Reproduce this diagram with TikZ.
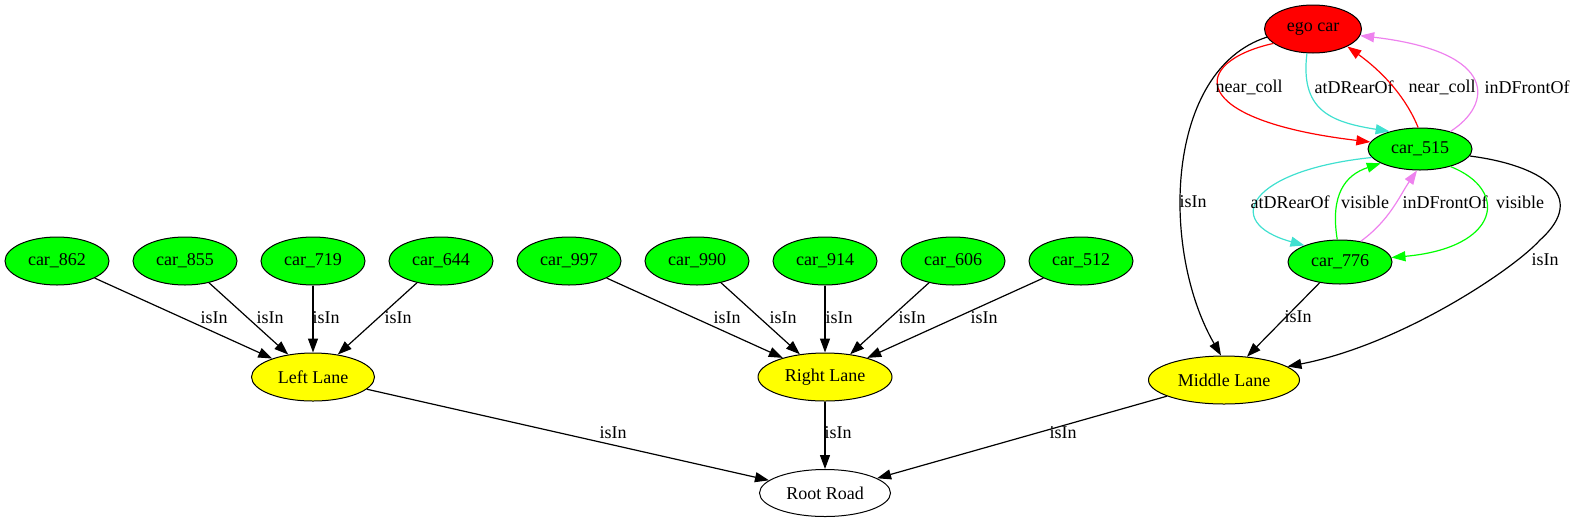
\documentclass[tikz,border=0pt]{standalone}
\usepackage{fontspec}
\setmainfont{Liberation Serif}
\usetikzlibrary{shapes.geometric,arrows.meta}
\definecolor{gvgreen}{HTML}{00FF00}
\definecolor{gvyellow}{HTML}{FFFF00}
\definecolor{gvred}{HTML}{FF0000}
\definecolor{gvturq}{HTML}{40E0D0}
\definecolor{gvviolet}{HTML}{EE82EE}
\begin{document}
\begin{tikzpicture}[x=1pt,y=-1pt,
  font=\fontsize{18}{20}\selectfont,
  vnode/.style={ellipse, draw=black, line width=1pt, inner sep=0pt, minimum height=48pt},
  carnode/.style={vnode, fill=gvgreen, minimum width=104pt},
  lanenode/.style={vnode, fill=gvyellow},
  edge/.style={draw, line width=1.2pt, -{Triangle[length=14pt,width=10pt]}},
  lab/.style={inner sep=0pt}]
\useasboundingbox (0,0) rectangle (1576,523);
% nodes
\node[vnode, fill=gvred, minimum width=97pt] (ego) at (1313,29) {ego car};
\node[carnode, minimum height=42pt] (c515) at (1420,149) {car\_515};
\node[carnode, minimum height=44pt] (c776) at (1340,262) {car\_776};
\node[carnode] (c862) at (57,261) {car\_862};
\node[carnode] (c855) at (185,261) {car\_855};
\node[carnode] (c719) at (313,261) {car\_719};
\node[carnode] (c644) at (441,261) {car\_644};
\node[carnode] (c997) at (569,261) {car\_997};
\node[carnode] (c990) at (697,261) {car\_990};
\node[carnode] (c914) at (825,261) {car\_914};
\node[carnode] (c606) at (953,261) {car\_606};
\node[carnode] (c512) at (1081,261) {car\_512};
\node[lanenode, minimum width=123pt] (LL) at (313,377) {Left Lane};
\node[lanenode, minimum width=134pt] (RL) at (825,377) {Right Lane};
\node[lanenode, minimum width=151pt] (ML) at (1224,380) {Middle Lane};
\node[vnode, minimum width=131pt, minimum height=47pt] (RR) at (825,493) {Root Road};
% left lane edges
\draw[edge] (c862) -- (LL) node[lab] at (214,318) {isIn};
\draw[edge] (c855) -- (LL) node[lab] at (270,318) {isIn};
\draw[edge] (c719) -- (LL) node[lab] at (326,318) {isIn};
\draw[edge] (c644) -- (LL) node[lab] at (398,318) {isIn};
% right lane edges
\draw[edge] (c997) -- (RL) node[lab] at (727,318) {isIn};
\draw[edge] (c990) -- (RL) node[lab] at (783,318) {isIn};
\draw[edge] (c914) -- (RL) node[lab] at (839,318) {isIn};
\draw[edge] (c606) -- (RL) node[lab] at (912,318) {isIn};
\draw[edge] (c512) -- (RL) node[lab] at (984,318) {isIn};
% lanes to root
\draw[edge] (LL) -- (RR) node[lab] at (613,433) {isIn};
\draw[edge] (RL) -- (RR) node[lab] at (838,433) {isIn};
\draw[edge] (ML) -- (RR) node[lab] at (1063,433) {isIn};
% middle lane
\draw[edge] (c776) -- (ML) node[lab] at (1298,317) {isIn};
\draw[edge] (ego.190) .. controls (1165,70) and (1160,250) .. (ML.97);
\node[lab] (l_egoml) at (1193,202) {isIn};
\draw[edge] (c515.352) .. controls (1540,165) and (1590,195) .. (1540,240)
   .. controls (1513,270) and (1400,345) .. (ML.12);
\node[lab] (l_515ml) at (1545,260) {isIn};
% ego <-> car_515
\draw[edge, gvred] (ego.200) .. controls (1190,62) and (1185,120) .. (c515.172);
\node[lab] (l_nc1) at (1249,87) {near\_coll};
\draw[edge, gvturq] (ego.256) .. controls (1300,110) and (1330,122) .. (c515.150);
\node[lab] (l_adr1) at (1354,87) {atDRearOf};
\draw[edge, gvred] (c515.95) .. controls (1405,95) and (1380,70) .. (ego.333);
\node[lab] (l_nc2) at (1442,87) {near\_coll};
\draw[edge, gvviolet] (c515.30) .. controls (1492,105) and (1500,52) .. (ego.352);
\node[lab] (l_idf1) at (1527,87) {inDFrontOf};
% car_515 <-> car_776
\draw[edge, gvturq] (c515.190) .. controls (1250,170) and (1220,222) .. (c776.155);
\node[lab] (l_adr2) at (1290,202) {atDRearOf};
\draw[edge, gvgreen] (c776.97) .. controls (1330,195) and (1345,175) .. (c515.200);
\node[lab] (l_vis1) at (1365,202) {visible};
\draw[edge, gvviolet] (c776.45) .. controls (1390,220) and (1400,195) .. (c515.262);
\node[lab] (l_idf2) at (1445,202) {inDFrontOf};
\draw[edge, gvgreen] (c515.330) .. controls (1510,190) and (1500,248) .. (c776.5);
\node[lab] (l_vis2) at (1520,202) {visible};
\end{tikzpicture}
\end{document}
